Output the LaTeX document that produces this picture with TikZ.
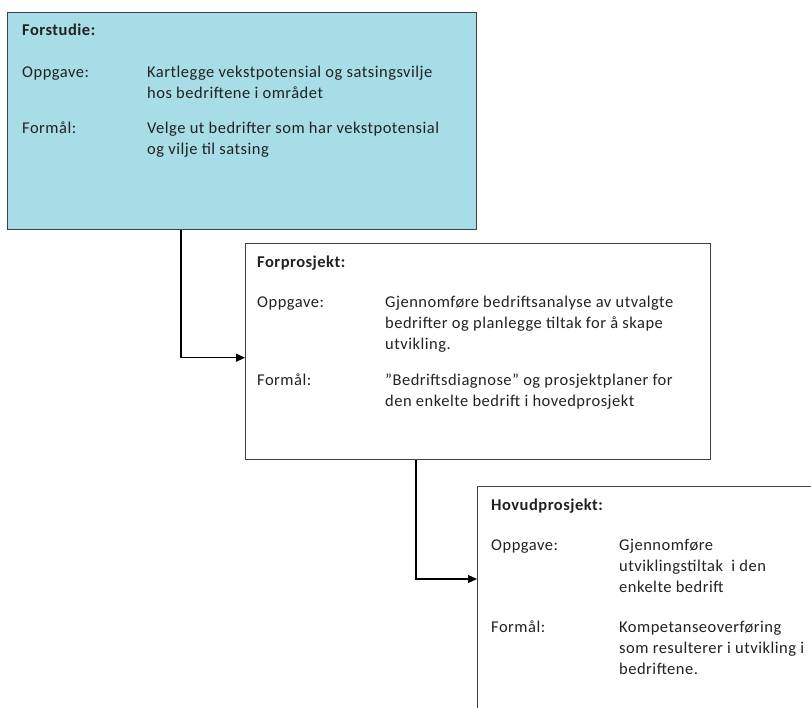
\documentclass[tikz,border=0pt]{standalone}
\usepackage{fontspec}
\setmainfont{Carlito}[LetterSpace=3]
\usetikzlibrary{positioning,arrows.meta}
\definecolor{fasecyan}{HTML}{A6DDE7}
\definecolor{kantgraa}{HTML}{404040}
\definecolor{tekstgraa}{HTML}{222222}
\tikzset{
  fase/.style={draw=kantgraa, line width=1.4pt, anchor=north west, inner sep=0pt},
  tittel/.style={anchor=base west, inner sep=0pt, font=\fontsize{16.5}{21}\selectfont\bfseries, text=tekstgraa},
  felt/.style={anchor=base west, inner sep=0pt, align=left, font=\fontsize{16.5}{21}\selectfont, text=tekstgraa},
  pil/.style={line width=1.1pt, -{Triangle[length=9pt,width=8pt]}}
}
\begin{document}
\begin{tikzpicture}[x=1pt, y=-1pt]
	\useasboundingbox (0,0) rectangle (811,707);
	\clip (0,0) rectangle (811,707);
	% boksene
	\node[fase, fill=fasecyan, minimum width=469pt, minimum height=217pt] (forstudie) at (7,12) {};
	\node[fase, fill=white, minimum width=465pt, minimum height=216pt] (forprosjekt) at (245,243) {};
	\node[fase, fill=white, minimum width=400pt, minimum height=300pt] (hovud) at (477,486) {};
	% Forstudie (base = siste linje)
	\node[tittel] (t1) at (22,35) {Forstudie:};
	\node[felt] (o1) at (22,77) {Oppgave:};
	\node[felt] (o1t) at (147,98) {Kartlegge vekstpotensial og satsingsvilje\\hos bedriftene i området};
	\node[felt] (f1) at (22,133) {Formål:};
	\node[felt] (f1t) at (147,154) {Velge ut bedrifter som har vekstpotensial\\og vilje til satsing};
	% Forprosjekt
	\node[tittel] (t2) at (257,267) {Forprosjekt:};
	\node[felt] (o2) at (257,307) {Oppgave:};
	\node[felt] (o2t) at (385,349) {Gjennomføre bedriftsanalyse av utvalgte\\bedrifter og planlegge tiltak for å skape\\utvikling.};
	\node[felt] (f2) at (257,385) {Formål:};
	\node[felt] (f2t) at (385,406) {”Bedriftsdiagnose” og prosjektplaner for\\den enkelte bedrift i hovedprosjekt};
	% Hovudprosjekt
	\node[tittel] (t3) at (491,510) {Hovudprosjekt:};
	\node[felt] (o3) at (491,550) {Oppgave:};
	\node[felt] (o3t) at (619,592) {Gjennomføre\\utviklingstiltak~ i den\\enkelte bedrift};
	\node[felt] (f3) at (491,632) {Formål:};
	\node[felt] (f3t) at (619,674) {Kompetanseoverføring\\som resulterer i utvikling i\\bedriftene.};
	% pilene
	\draw[pil] (forstudie.south west) ++(174,0) |- ([yshift=-6pt]forprosjekt.west);
	\draw[pil] (forprosjekt.south west) ++(171,0) |- ([yshift=-93pt]hovud.north west);
\end{tikzpicture}
\end{document}
